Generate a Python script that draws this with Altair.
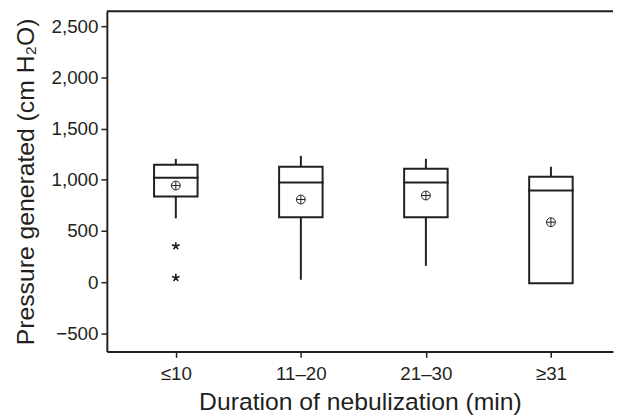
import altair as alt
import pandas as pd

# ---- data ----
groups = ["≤10", "11–20", "21–30", "≥31"]
whisker_low = [624, 24, 160, -10]
q1 = [837, 634, 634, -10]
median = [1021, 973, 973, 895]
q3 = [1147, 1128, 1108, 1031]
whisker_high = [1205, 1234, 1205, 1128]
mean = [944, 808, 847, 586]
outlier_group = ["≤10", "≤10"]
outlier_value = [353, 44]

y_ticks = [-500, 0, 500, 1000, 1500, 2000, 2500]
y_domain = [-675, 2645]
x_domain = [-0.512, 3.457]   # category slots 0..3, plot clipped on the right

# ---- styling ----
W, H = 512, 344
INK = "#231f20"
FONT = "Liberation Sans"
CIRCLE_PLUS = "M-1,0A1,1 0 1,1 1,0A1,1 0 1,1 -1,0M-1,0L1,0M0,-1L0,1"
ASTERISK = ("M0,0L0,-1M0,0L0.951,-0.309M0,0L0.588,0.809"
            "M0,0L-0.588,0.809M0,0L-0.951,-0.309")

df = pd.DataFrame({
    "idx": list(range(len(groups))), "group": groups, "wlo": whisker_low,
    "q1": q1, "med": median, "q3": q3, "whi": whisker_high, "mean": mean,
})
out = pd.DataFrame({"idx": [groups.index(g) for g in outlier_group],
                    "value": outlier_value})

label_expr = ("[" + ",".join("'" + g + "'" for g in groups) + "][datum.value]")
x_scale = alt.Scale(domain=x_domain, nice=False, zero=False)
x_axis = alt.Axis(title="Duration of nebulization (min)", values=list(range(len(groups))),
                  labelExpr=label_expr, labelAngle=0)
x = alt.X("idx:Q", scale=x_scale, axis=x_axis)
y_scale = alt.Scale(domain=y_domain, nice=False, zero=False)
y_axis = alt.Axis(values=y_ticks, format=",.0f", title="Pressure generated (cm H₂O)")

base = alt.Chart(df)

whisk = base.mark_rule(color=INK, strokeWidth=2).encode(
    x=x, y=alt.Y("wlo:Q", scale=y_scale, axis=y_axis), y2="whi:Q")
box = base.mark_bar(size=44, fill="white", stroke=INK, strokeWidth=2).encode(
    x=x, y=alt.Y("q1:Q", scale=y_scale, axis=y_axis), y2="q3:Q")
med = base.mark_tick(size=46, thickness=2, color=INK, opacity=1,
                     orient="horizontal").encode(
    x=x, y=alt.Y("med:Q", scale=y_scale, axis=y_axis))
mn = base.mark_point(shape=CIRCLE_PLUS, size=80, filled=False, stroke=INK,
                     strokeWidth=1, opacity=1).encode(
    x=x, y=alt.Y("mean:Q", scale=y_scale, axis=y_axis))
outl = alt.Chart(out).mark_point(shape=ASTERISK, size=64, filled=False,
                                 stroke=INK, strokeWidth=1.6, opacity=1).encode(
    x=x, y=alt.Y("value:Q", scale=y_scale, axis=y_axis))
top = alt.Chart(pd.DataFrame({"v": [y_domain[1]]})).mark_rule(
    color=INK, strokeWidth=2).encode(
    y=alt.Y("v:Q", scale=y_scale, axis=y_axis), x=alt.value(0), x2=alt.value(W))

chart = alt.layer(whisk, box, med, mn, outl, top).properties(
    width=W, height=H,
    padding={"top": 0, "left": 5, "right": 0, "bottom": 0},
).configure_view(stroke=None).configure_axis(
    labelFont=FONT, titleFont=FONT, labelFontSize=19, titleFontSize=25,
    labelColor=INK, titleColor=INK, titleFontWeight="normal",
    domainColor=INK, domainWidth=2, tickColor=INK, tickWidth=1.5, tickSize=6,
    grid=False,
).configure_axisY(labelPadding=3, titlePadding=13).configure_axisX(
    labelPadding=7, titlePadding=7)

chart.save("out.html", embed_options={"renderer": "svg", "actions": False})
